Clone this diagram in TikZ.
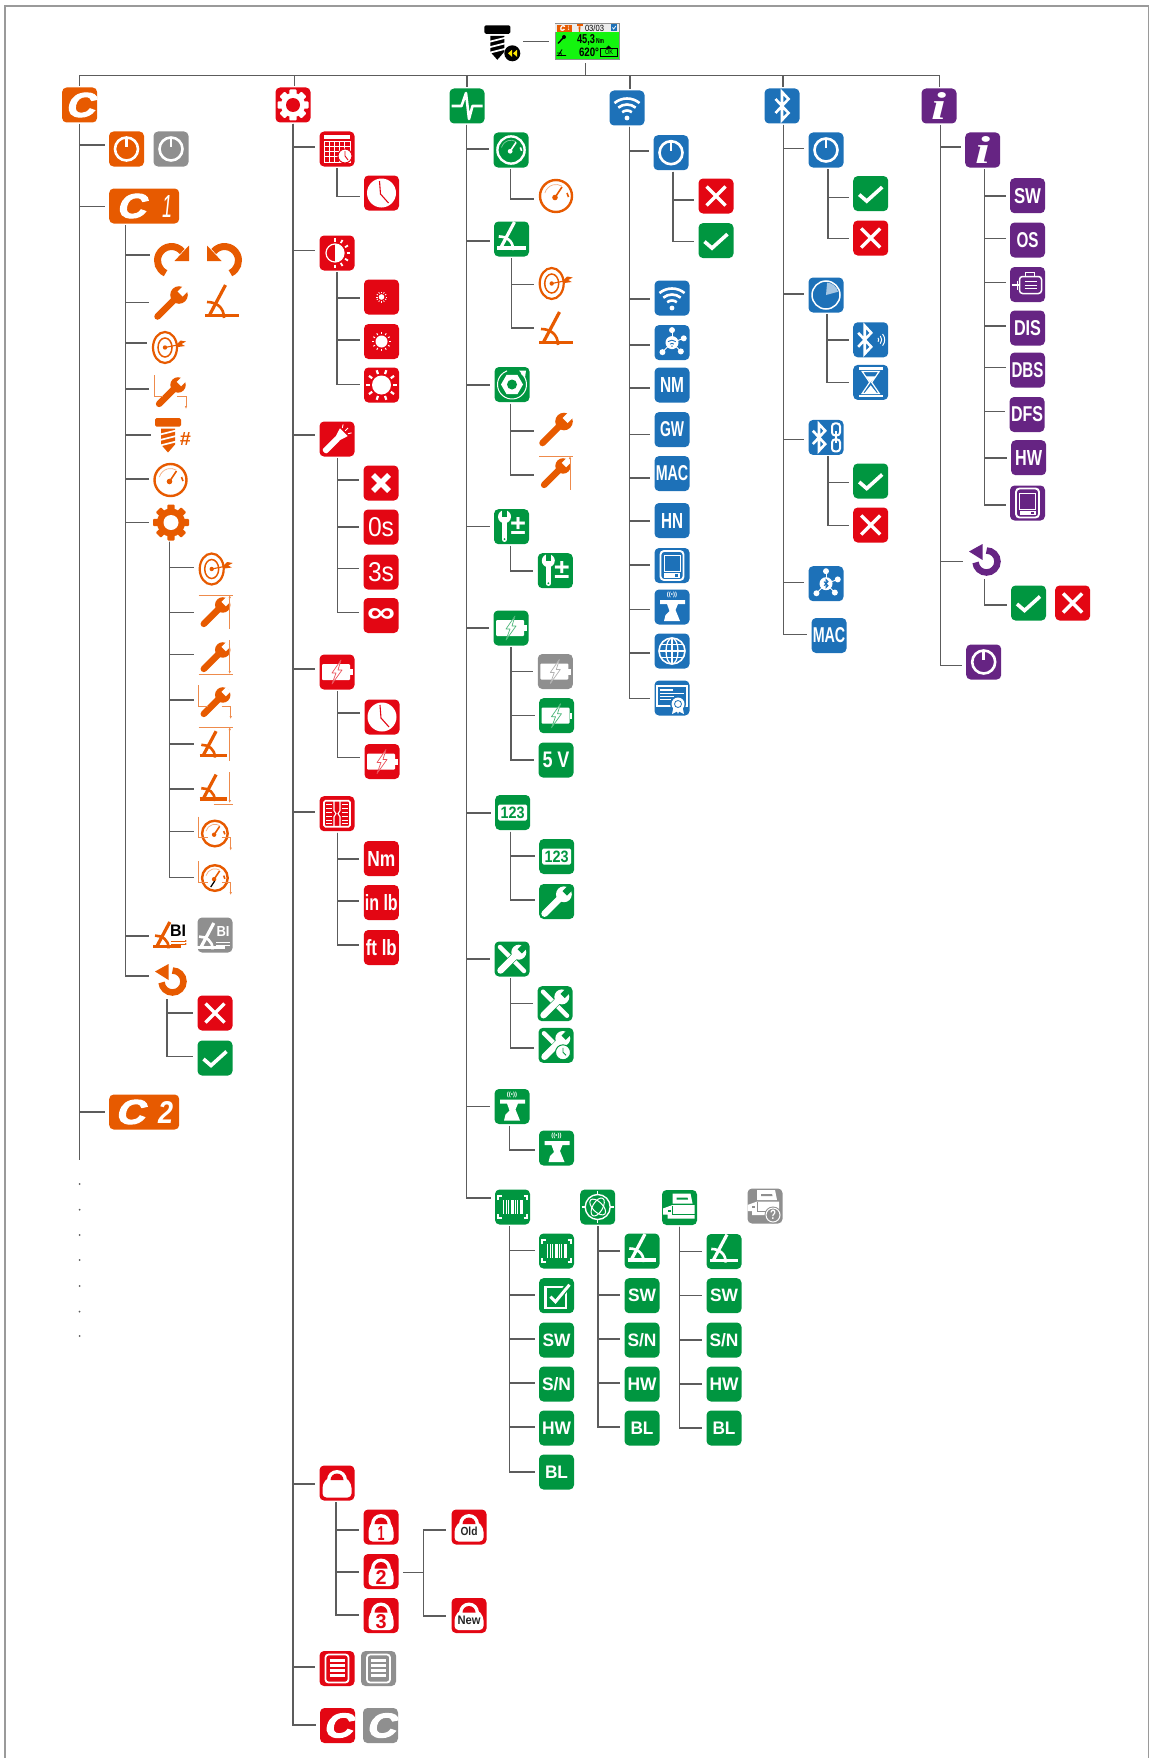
\documentclass[tikz,border=0pt]{standalone}
\usepackage{fontspec}
\usepackage{graphicx}
\setmainfont{Liberation Sans}
\newfontfamily\logofont[FakeSlant=0.22,FakeBold=3]{Liberation Sans}
\newfontfamily\serifi{Liberation Serif}
\usetikzlibrary{arrows.meta}
\definecolor{corange}{HTML}{E75A00}
\definecolor{cred}{HTML}{E30613}
\definecolor{cgreen}{HTML}{009640}
\definecolor{cblue}{HTML}{1D71B8}
\definecolor{cpurple}{HTML}{662483}
\definecolor{cgray}{HTML}{8F8F8F}
\definecolor{cline}{HTML}{5C5C5C}
\definecolor{cframe}{HTML}{9A9A9A}
\definecolor{clcd}{HTML}{14F50F}
\tikzset{
  lw/.style={line width=#1},
  ibox/.style={rounded corners=4.5,minimum width=35,minimum height=35,inner sep=0,outer sep=0},
  ghost/.style={minimum width=35,minimum height=35,inner sep=0,outer sep=0},
  conn/.style={draw=cline,line width=1.25},
  thinl/.style={draw=fgc!70!white,line width=.8},
}
\newcounter{lblc}
\newcommand\lbl[4][]{\stepcounter{lblc}\node[inner sep=0,#1] (lbl\arabic{lblc}) at (#2,#3) {#4};}
\newcommand\sz[3]{\resizebox{#1pt}{#2pt}{\bfseries #3}}
\newcommand\icon[5]{\node[ibox,fill=#4] (#1) at (#2,-#3) {};
  \begin{scope}[shift={(#2,-#3)},yscale=-1]\colorlet{fgc}{white}\colorlet{bgc}{#4}#5\end{scope}}
\newcommand\bare[5][corange]{\node[ghost] (#2) at (#3,-#4) {};
  \begin{scope}[shift={(#3,-#4)},yscale=-1]\colorlet{fgc}{#1}\colorlet{bgc}{white}#5\end{scope}}
\newcommand\tb[7]{\node[ibox,fill=#4,text=white] (#1) at (#2,-#3) {\sz{#5}{#6}{#7}};}
\newcommand\tbr[7]{\node[ibox,fill=#4,text=white] (#1) at (#2,-#3) {\resizebox{#5pt}{#6pt}{#7}};}
\newcommand\kids[3]{\foreach \kc/\kd in {#3}{\draw[conn] ([shift={(#2,-1.5)}]#1.south) |- ([shift={(-4.5,0-\kd)}]\kc.west);}}
\newcommand\scl[2]{\begin{scope}[#1]#2\end{scope}}
% glyphs
\newcommand\gPower{\draw[fgc,lw=2.6] (0,0) circle (11.5);\draw[fgc,lw=2.6] (0,-12)--(0,-2);}
\newcommand\gX{\draw[fgc,lw=3.4] (-9.5,-9.5)--(9.5,9.5) (-9.5,9.5)--(9.5,-9.5);}
\newcommand\gXb{\draw[fgc,lw=5.5] (-8,-8)--(8,8) (-8,8)--(8,-8);}
\newcommand\gCheck{\draw[fgc,lw=3.6] (-11.5,1)--(-4,7.5)--(11.5,-6.5);}
\newcommand\gGear[2]{\fill[fgc] (0,0) circle (#1*.78);\foreach \a in {0,45,...,315}{\fill[fgc,rotate=\a,rounded corners=1] (-3.6,-#1) rectangle (3.6,-#1*.6);}\fill[bgc] (0,0) circle (#2);}
\newcommand\gPulse{\draw[fgc,lw=2.6,line join=round] (-15.5,0)--(-5.5,0)--(-1,-13)--(2,13)--(5.5,0)--(15.5,0);}
\newcommand\gWifi{\foreach \r in {7.5,13.5,19.5}{\draw[fgc,lw=2.6] ([shift={(0,10)}]-130:\r) arc (-130:-50:\r);}\fill[fgc] (0,10) circle (2.4);}
\newcommand\gRune{\draw[fgc,lw=2.6,line join=miter] (-6.5,-7)--(6.5,7)--(0,14)--(0,-14)--(6.5,-7)--(-6.5,7);}
\newcommand\gCal{\fill[fgc] (-13,-13.5) rectangle (13,-10);\draw[fgc,lw=.9] (-13,-8) rectangle (13,13);
 \foreach \xx in {-7.8,-2.6,2.6,7.8}{\draw[fgc,lw=.9] (\xx,-8)--(\xx,13);}\foreach \yy in {-3,2,7.5}{\draw[fgc,lw=.9] (-13,\yy)--(13,\yy);}
 \fill[fgc,draw=bgc,lw=1] (8,7) circle (7);\draw[bgc,lw=.9] (8,2)--(8,7)--(11,11);}
\newcommand\gClock{\fill[fgc] (0,0) circle (14.5);\draw[bgc,lw=1.1] (-2,-12)--(-1,1)--(7,10);}
\newcommand\gHalf{\begin{scope}[shift={(-2,0)}]\draw[fgc,lw=1.2] (0,0) circle (9);\fill[fgc] (0,-9) arc (-90:90:9)--cycle;\foreach \a in {-90,-60,...,90}{\draw[fgc,lw=1.8] (\a:11.5)--(\a:15);}\end{scope}}
\newcommand\gSun[5]{\fill[fgc] (0,0) circle (#1);\foreach \a in {0,#5,...,359}{\draw[fgc,lw=#4] (\a:#2)--(\a:#3);}}
\newcommand\gTorch{\begin{scope}[shift={(-1,1)},rotate=45]\fill[fgc,rounded corners=2] (-3,-4) rectangle (3,17);\fill[fgc] (-5.5,-11)--(5.5,-11)--(3,-3)--(-3,-3)--cycle;\draw[fgc,lw=.9] (0,-13)--(0,-17) (-4,-13)--(-6,-16) (4,-13)--(6,-16);\end{scope}}
\newcommand\gBatt{\fill[fgc,rounded corners=1] (-15,-8) rectangle (13,8);\fill[fgc] (13,-3) rectangle (15.5,3);
 \draw[bgc!70!white,lw=.7,fill=fgc,line join=round] (4,-12)--(-5,1)--(-1,1)--(-5,12)--(5,-2)--(1,-2)--cycle;}
\newcommand\gUnits{\draw[fgc,lw=1.6,rounded corners=1.5] (-13,-13) rectangle (13,13);\draw[fgc,lw=1.1] (-3,-13)--(-3,-3)--(-1,0)--(-3,3)--(-3,13) (3,-13)--(3,-3)--(1,0)--(3,3)--(3,13);
 \foreach \yy in {-9,-5,-1,3,7,10}{\draw[fgc,lw=1.1] (-11,\yy)--(-5,\yy) (5,\yy)--(11,\yy);}}
\newcommand\gLock[1]{\fill[fgc,rounded corners=4] (-8.5,-6)--(8.5,-6)--(#1,1)--(#1,14.5)--(-#1,14.5)--(-#1,1)--cycle;\fill[fgc] (-10,-3) arc (180:360:10)--cycle;\fill[bgc] (-6.5,-3) arc (180:360:6.5)--cycle;}
\newcommand\gList{\draw[fgc,lw=1.8,rounded corners=3] (-11.5,-14) rectangle (11.5,14);\foreach \yy in {-8,-3,2,7}{\draw[fgc,lw=2.4] (-7.5,\yy)--(7.5,\yy);}}
\newcommand\gC{\lbl[text=fgc]{0}{0}{\resizebox{29pt}{24pt}{\logofont\bfseries C}}}
\newcommand\gGauge{\draw[fgc,lw=2.4] (0,0) circle (16);\draw[fgc!50!bgc,lw=.7] (-165:11.5) arc (-165:-60:11.5);\draw[fgc,lw=1.6] (-1,1.5)--(6,-9);\fill[fgc] (-1,1.5) circle (2.8);\draw[fgc,lw=1.6] (11,-3)--(12.5,1);}
\newcommand\gAngle{\draw[fgc,lw=3.2] (-13,14)--(3.5,-17);\draw[fgc,lw=3.2] (-17,13.5)--(17,13.5);\draw[fgc,lw=2.6] (-15,0) .. controls (-6,0) and (2,5) .. (2,16);}
\newcommand\gAngleB{\scl{scale=.85,shift={(0,-3)}}{\gAngle}}
\newcommand\gWrench{\draw[fgc,lw=6.5,line cap=round] (-13.5,13.5)--(5,-5);\fill[fgc] (8,-8) circle (8.8);\fill[bgc] (11.5,-6.5)--(6.5,-11.5)--(12,-17)--(17,-12)--cycle;}
\newcommand\gTarget{\draw[fgc,lw=2.2] (-4,0) ellipse (12 and 15.5);\draw[fgc,lw=1.5] (-4,0) ellipse (7 and 9.5);\fill[fgc] (-4,0) circle (2.2);\draw[fgc,lw=1.1] (-4,0)--(11,-3);\fill[fgc] (7,-2.5)--(11.5,-7)--(17,-6)--(12.5,-3.5)--(16,-1.5)--(9,-.5)--cycle;}
\newcommand\gRedo{\begin{scope}[shift={(0,1)}]\draw[fgc,lw=7] (115:14) arc (115:320:14);\fill[fgc] (17.5,-15)--(17.5,.5)--(3,.5)--cycle;\end{scope}}
\newcommand\gReset{\begin{scope}[shift={(1.5,1.5)}]\draw[fgc,lw=6.5] (-90:11) arc (-90:175:11);\fill[fgc] (-17.5,-10)--(-4,-17.5)--(-4,-1.5)--cycle;\end{scope}}
\newcommand\gScrew{\fill[fgc,rounded corners=1.5] (-13,-17.5) rectangle (13,-9);\fill[fgc] (-7,-7)--(7,-7)--(7,9)--(0,17)--(-7,9)--cycle;\draw[bgc,lw=1.7] (-8,-1)--(8,-5) (-8,4.5)--(8,.5) (-8,10)--(8,6);}
\newcommand\gNut{\fill[fgc] (0:11)--(60:11)--(120:11)--(180:11)--(240:11)--(300:11)--cycle;\fill[bgc] (0,0) circle (5);\draw[fgc,lw=1] (-50:14.5) arc (-50:250:14.5);\fill[fgc] (7,-14)--(14,-14)--(13,-7)--cycle;}
\newcommand\gWpm{\draw[fgc,lw=4.5,line cap=round] (-7,-6)--(-7,13);\fill[fgc] (-7,-10) circle (6.5);\fill[bgc] (-9.5,-10)--(-4.5,-10)--(-4.5,-17)--(-9.5,-17)--cycle;\fill[bgc] (-7,12.5) circle (1);\lbl[text=fgc]{6.5}{-1}{\sz{15}{17}{±}}}
\newcommand\gOneTwo{\fill[fgc,rounded corners=1.5] (-14.5,-8) rectangle (14.5,8);\lbl[text=bgc]{0}{0}{\sz{24}{11.5}{123}}}
\newcommand\gTools{\draw[fgc,lw=4.5,line cap=round] (-12,-12)--(12,12);\draw[bgc,lw=7.5] (-7,7)--(3,-3);\scl{scale=.85}{\gWrench}}
\newcommand\gToolsC{\draw[fgc,lw=4.5,line cap=round] (-12,-12)--(3,3);\draw[bgc,lw=7.5] (-7,7)--(3,-3);\scl{scale=.85}{\gWrench}\fill[fgc,draw=bgc,lw=1] (7,7) circle (7.5);\draw[bgc,lw=.9] (7,2.5)--(7,7)--(10,10);}
\newcommand\gDrill{\lbl[text=fgc,font=\bfseries\fontsize{6}{6}\selectfont]{0}{-12}{((•))}\fill[fgc] (-12,-7)--(13,-7)--(13,-3)--(6,-3)--(3.5,3)--(8,14)--(-8,14)--(-6.5,8)--(-2.5,4)--(-5,-3)--(-12,-3)--cycle;}
\newcommand\gBar{\foreach \xx/\ww in {-9/1.6,-6.5/1,-4/1.8,-1.5/.8,.5/1.6,3/1,5/1.8,7.5/.8,9.5/1.4}{\draw[fgc,lw=\ww] (\xx,-7)--(\xx,7);}
 \draw[fgc,lw=1.3] (-11,-11)--(-14.5,-11)--(-14.5,-7) (11,-11)--(14.5,-11)--(14.5,-7) (-11,11)--(-14.5,11)--(-14.5,7) (11,11)--(14.5,11)--(14.5,7);}
\newcommand\gBox{\draw[fgc,lw=2.2] (-11,-8.5) rectangle (9.5,12);\draw[bgc,lw=6] (-6,1)--(-1,6)--(13,-12);\draw[fgc,lw=3] (-6,1)--(-1,6)--(13,-11);}
\newcommand\gScan{\draw[fgc,lw=1.4] (0,0) circle (12.5);\draw[fgc,lw=1.4] (0,-16)--(0,-12) (0,16)--(0,12) (-16,0)--(-12,0) (16,0)--(12,0);\draw[fgc,lw=1,rotate=45] (0,0) ellipse (10 and 5);\draw[fgc,lw=1,rotate=-60] (0,0) ellipse (10 and 5);}
\newcommand\gPrinter{\fill[fgc] (-7,-14)--(11,-14)--(13,-4)--(-7,-4)--cycle;\fill[bgc] (-3,-10)--(8,-10)--(8.5,-8)--(-3,-8)--cycle;\fill[fgc] (-16.5,1)--(-7,-2.5)--(15,-2.5)--(15,11)--(-12,11)--(-12,7)--(-16.5,7)--cycle;\draw[bgc,lw=.7] (-7,-2)--(-7,7)--(15,7);\fill[bgc] (-12,2) rectangle (-9,4);}
\newcommand\gPrinterQ{\scl{shift={(-1,-2)}}{\gPrinter}\fill[bgc] (8,9) circle (8.5);\draw[fgc,lw=1,fill=bgc] (8,9) circle (7);\lbl[text=fgc]{8}{9}{\sz{6}{9.5}{?}}}
\newcommand\gNet[1]{\foreach \a/\rr in {-90/12.5,-20/12.5,45/12.5,135/13.5,-155/3}{\draw[fgc,lw=.9] (0,0)--(\a:\rr);\fill[fgc] (\a:\rr) circle (3);}\fill[fgc] (0,0) circle (6.5);#1}
\newcommand\gNetWifi{\gNet{\draw[bgc,lw=.9] (-4,-1) arc (-130:-50:6);\draw[bgc,lw=.9] (-2,1.5) arc (-130:-50:3);\fill[bgc] (0,3.5) circle (.8);}}
\newcommand\gNetBT{\gNet{\draw[bgc,lw=1,line join=miter] (-2,-2)--(2,2)--(0,4)--(0,-4)--(2,-2)--(-2,2);}}
\newcommand\gDevice{\draw[fgc,lw=1.9,rounded corners=3.5] (-11.5,-14.5) rectangle (11.5,14.5);\draw[fgc,lw=.9] (-8,-10) rectangle (8,6);\fill[fgc] (-8,7.5) rectangle (8,12);\fill[bgc] (3,8.5) rectangle (6,11);}
\newcommand\gGlobe{\draw[fgc,lw=1.6] (0,0) circle (13);\draw[fgc,lw=1.3] (0,0) ellipse (6 and 13);\draw[fgc,lw=1.3] (0,-13)--(0,13) (-13,0)--(13,0) (-11,-6.5)--(11,-6.5) (-11,6.5)--(11,6.5);}
\newcommand\gCert{\draw[fgc,lw=1.2] (-15,-12) rectangle (15,8);\draw[fgc,lw=1.5] (-12,-8)--(1,-8);\draw[fgc,lw=.8] (-12,-5)--(12,-5) (-12,-2)--(2,-2) (-12,1)--(-1,1);\fill[bgc] (6,6) circle (8);\fill[fgc] (1.5,9)--(0,16)--(5,13.5)--(6,16)--(7,13.5)--(12,16)--(10.5,9)--cycle;\fill[fgc] (6,6) circle (6.5);\draw[bgc,lw=.8] (6,6) circle (3.5);}
\newcommand\gRadar{\draw[fgc,lw=1.5] (0,0) circle (14);\fill[fgc!60!bgc] (0,0)--(-85:12.5) arc (-85:-15:12.5)--cycle;}
\newcommand\gBTS{\scl{shift={(-6,0)}}{\gRune}\foreach \r in {3,6,9}{\draw[fgc,lw=1] ([shift={(5,0)}]-40:\r) arc (-40:40:\r);}}
\newcommand\gHour{\fill[fgc] (-12,-15) rectangle (12,-12.5);\fill[fgc] (-12,12.5) rectangle (12,15);\draw[fgc,lw=1.2,fill=bgc] (-8.5,-11)--(8.5,-11)--(1,0)--(8.5,11)--(-8.5,11)--(-1,0)--cycle;\fill[fgc] (-6,10.5)--(6,10.5)--(0,3)--cycle;\fill[fgc] (-5,-6)--(5,-6)--(0,0)--cycle;}
\newcommand\gBTL{\scl{shift={(-7,0)},scale=.95}{\gRune}\draw[fgc,lw=2,rounded corners=3] (6,-14) rectangle (14,-2);\draw[fgc,lw=2,rounded corners=3] (6,2) rectangle (14,14);\draw[fgc,lw=2] (10,-6)--(10,6);}
\newcommand\gMotor{\draw[fgc,lw=1.5,rounded corners=3] (-8,-8) rectangle (14,9);\foreach \yy in {-3,.5,4}{\draw[fgc,lw=1] (-3,\yy)--(9,\yy);}\draw[fgc,lw=1.5] (-16,.5)--(-8,.5);\draw[fgc,lw=1.2] (-10,-4)--(-10,5);\draw[fgc,lw=1] (-2,-8) rectangle (7,-12);}
% bracket decorations
\newcommand\topb{\draw[thinl] (-17,-17)--(17,-17);\draw[thinl,{Latex[length=3,width=2.5]}-] (14,-17)--(14,17);}
\newcommand\botb{\draw[thinl] (-17,17)--(17,17);\draw[thinl,-{Latex[length=3,width=2.5]}] (14,-17)--(14,17);}
\newcommand\lb{\draw[thinl] (-17,-17)--(-17,4)--(-8,4) (6,4)--(15,4);\draw[thinl,-{Latex[length=3,width=2.5]}] (15,4)--(15,17);}
\begin{document}
\begin{tikzpicture}[x=1pt,y=1pt]
\useasboundingbox (0,0) rectangle (1149,-1758);
\draw[cframe,lw=1.3] (5,-1758)--(5,-6)--(1148.5,-6)--(1148.5,-1758);
% header
\bare[black]{scr}{502}{41.3}{\scl{shift={(-4.7,1.5)}}{\gScrew}\fill[black] (10.3,12) circle (8);\fill[yellow!90!orange] (10,8.5)--(10,15.5)--(6,12)--cycle (15,8.5)--(15,15.5)--(11,12)--cycle;}
\node[fill=clcd,draw=cgray,lw=.7,minimum width=64,minimum height=35.5,inner sep=0] (lcd) at (587,-41.3) {};
\begin{scope}[yscale=-1]
\fill[white!85!gray] (555.4,23.7) rectangle (618.6,32.3);
\fill[corange] (556.8,24.6) rectangle (571.5,31.6);
\lbl[text=white]{562}{28}{\resizebox{5pt}{5.5pt}{\logofont\bfseries C}}
\lbl[text=white]{568.5}{28}{\sz{1.5}{4.5}{1}}
\fill[corange] (576.5,24.5) rectangle (582.5,26.5);\fill[corange] (578.5,26.5)--(580.5,26.5)--(580,32)--(579,32)--cycle;
\lbl[text=black]{594.5}{28}{\resizebox{19pt}{6.5pt}{03/03}}
\fill[cblue] (610.7,24.5) rectangle (617,31);\draw[white,lw=.7] (612.3,27.5)--(613.7,29)--(615.8,26);
\draw[black,lw=1.4] (558,43.5)--(563,38);\fill[black] (564,37) circle (2);
\draw[black,lw=.8] (558,56)--(562,49.5) (556.5,55.5)--(566,55.5) (557,53)--(561,53)--(561.5,56);
\lbl[text=black]{586}{40}{\sz{18}{9}{45,3}}
\lbl[text=black]{600}{41.5}{\sz{8}{5}{Nm}}
\lbl[text=black]{589}{52}{\sz{20}{8.5}{620°}}
\draw[black,lw=.7] (600,48) rectangle (617,56);
\fill[black] (608.5,45.5)--(606,48)--(611,48)--cycle;
\lbl[text=black]{609}{52}{\resizebox{8pt}{5pt}{OK}}
\end{scope}
\draw[conn] ([shift={(-6,0)}]lcd.west) -- ([shift={(3.5,0)}]scr.east);
% columns
\icon{rC}{79.6}{105}{corange}{\gC}
\icon{rG}{293}{105}{cred}{\gGear{15.5}{7}}
\icon{rP}{467}{106}{cgreen}{\gPulse}
\icon{rW}{627}{108}{cblue}{\gWifi}
\icon{rB}{782}{106}{cblue}{\gRune}
\node[ibox,fill=cpurple,text=white] (rI) at (939,-106) {\resizebox{15pt}{27pt}{\serifi\bfseries\itshape i}};
\foreach \cn/\cx in {rC/0,rG/1.5,rP/0,rW/3,rB/1,rI/.6}{\draw[conn] ([shift={(-1.3,-4)}]lcd.south) -- ++(0,-12) -| ([shift={(\cx,1.5)}]\cn.north);}
% C column
\icon{cp}{126.5}{149}{corange}{\gPower}
\icon{cpg}{171}{149}{cgray}{\gPower}
\node[ibox,fill=corange,minimum width=70,text=white] (c1) at (144.2,-206) {\resizebox{29pt}{24pt}{\logofont\bfseries C}\hspace{17pt}\resizebox{10pt}{22pt}{\itshape 1}};
\node[ibox,fill=corange,minimum width=70,text=white] (c2) at (144.2,-1112) {\resizebox{29pt}{24pt}{\logofont\bfseries C}\hspace{14pt}\resizebox{15pt}{22pt}{\bfseries\itshape 2}};
\kids{rC}{0}{cp/-4,c1/.7,c2/0}
\coordinate (cend) at (79.6,-1160);
\draw[conn] ([shift={(0,-1.5)}]rC.south) -- (cend);
\foreach \dy in {1184,1209.7,1235,1260,1286,1311.6,1336}{\fill[cline] (79.6,-\dy) circle (1);}
\bare{re}{171.5}{259.5}{\gRedo}
\bare{un}{224.5}{259.5}{\scl{xscale=-1}{\gRedo}}
\bare{cw}{171}{303}{\gWrench}
\bare{ca}{222}{302}{\gAngle}
\bare{ct}{169}{347.5}{\gTarget}
\bare{cwl}{171}{392}{\scl{scale=.88}{\gWrench}\lb}
\bare{cs}{173}{435.5}{\scl{shift={(-5,0)}}{\gScrew}\lbl[text=corange]{12}{3.5}{\resizebox{11pt}{13pt}{\bfseries\itshape\#}}}
\bare{cg}{170.5}{480}{\gGauge}
\bare{cge}{171}{522.5}{\gGear{18}{7.5}}
\bare{g1}{215.7}{569}{\gTarget}
\bare{g2}{215.7}{612}{\scl{scale=.88}{\gWrench}\topb}
\bare{g3}{215.7}{657}{\scl{scale=.88}{\gWrench}\botb}
\bare{g4}{215.7}{702}{\scl{scale=.88}{\gWrench}\lb}
\bare{g5}{215.7}{744}{\scl{scale=.8,shift={(-3,1)}}{\gAngle}\topb}
\bare{g6}{215.7}{789}{\scl{scale=.8,shift={(-3,-1)}}{\gAngle}\draw[thinl,lw=1.5] (-2,15.5)--(17,15.5);\draw[thinl,-{Latex[length=3,width=2.5]}] (14,-17)--(14,14);}
\bare{g7}{215.7}{833.5}{\scl{scale=.8,shift={(-1,0)}}{\gGauge}\lb}
\bare{g8}{215.7}{878}{\scl{scale=.8,shift={(-1,0)}}{\gGauge}\lb\draw[black,lw=1.2] (-5,9)--(-1,3);}
\bare{cb}{171}{934}{\scl{scale=.8,shift={(-5,2)}}{\gAngle}\lbl[text=black]{7}{-3}{\sz{16}{11.5}{BI}}\draw[corange,lw=.7,-{Latex[length=2,width=2]}] (0,7)--(16,7);\draw[corange,lw=.7,-{Latex[length=2,width=2]}] (0,10)--(16,10);}
\icon{cbg}{215}{935}{cgray}{\scl{scale=.8,shift={(-5,2)}}{\gAngle}\lbl[text=fgc]{8}{-4}{\sz{13}{10}{BI}}\draw[fgc,lw=.7] (1,7)--(15,7) (1,10)--(15,10);}
\bare{cr}{171}{980}{\gReset}
\icon{crx}{215}{1013}{cred}{\gX}
\icon{crc}{215}{1058}{cgreen}{\gCheck}
\kids{c1}{-18.9}{re/-4.5,cw/-.5,ct/-4.5,cwl/-3,cs/-.5,cg/-1,cge/0,cb/2,cr/-4}
\kids{cge}{-1.3}{g1/-1.4,g2/.6,g3/-2.2,g4/-2,g5/0,g6/0,g7/-1.9,g8/-.5}
\kids{cr}{-4}{crx/0,crc/-1.4}
% Gear column
\icon{cal}{337}{149}{cred}{\gCal}
\icon{clk}{381.5}{193}{cred}{\gClock}
\icon{br}{337}{253}{cred}{\gHalf}
\icon{d1}{381.5}{297}{cred}{\gSun{2.8}{4}{5.5}{.8}{30}}
\icon{d2}{381.5}{341.5}{cred}{\gSun{6}{7.5}{9.5}{1}{30}}
\icon{d3}{381.5}{385}{cred}{\gSun{9.5}{11.5}{15.5}{2.2}{36}}
\icon{trc}{337}{439}{cred}{\gTorch}
\icon{tx}{381}{483}{cred}{\gXb}
\tbr{t0}{381}{527}{cred}{26}{19}{0s}
\tbr{t3}{381}{572}{cred}{26}{19}{3s}
\node[ibox,fill=cred,text=white] (ti) at (381,-615.5) {\resizebox{28pt}{14pt}{\bfseries ∞}};
\icon{bat}{337}{672}{cred}{\gBatt}
\icon{bclk}{382}{717}{cred}{\gClock}
\icon{bbat}{382}{761.5}{cred}{\gBatt}
\icon{uni}{337}{813.7}{cred}{\gUnits}
\tb{un1}{381.3}{858.5}{cred}{28}{15}{Nm}
\tb{un2}{381.3}{902.5}{cred}{33}{16}{in lb}
\tb{un3}{381.3}{947.5}{cred}{31}{16}{ft lb}
\icon{lck}{337}{1483}{cred}{\gLock{14.5}}
\icon{l1}{381}{1527}{cred}{\gLock{12.5}\lbl[text=bgc]{0}{6}{\sz{7}{14}{1}}}
\icon{l2}{381}{1571.5}{cred}{\gLock{12.5}\lbl[text=bgc]{0}{6}{\sz{11}{14}{2}}}
\icon{l3}{381}{1615.5}{cred}{\gLock{12.5}\lbl[text=bgc]{0}{6}{\sz{11}{14}{3}}}
\icon{lold}{469}{1527}{cred}{\gLock{14.5}\lbl[text=black!85]{0}{4.5}{\sz{17}{8.5}{Old}}}
\icon{lnew}{469}{1615.5}{cred}{\gLock{14.5}\lbl[text=black!85]{0}{4.5}{\sz{23}{8.5}{New}}}
\icon{lst}{337}{1668.5}{cred}{\gList}
\icon{lsg}{378.5}{1668.5}{cgray}{\gList}
\icon{cc}{337.5}{1725.5}{cred}{\gC}
\icon{cg2}{380.5}{1725.5}{cgray}{\gC}
\kids{rG}{0}{cal/-2,br/-2.3,trc/-4,bat/-3,uni/-1.7,lck/1,lst/-1.5,cc/-.5}
\kids{cal}{0}{clk/3.7}
\kids{br}{0}{d1/1,d2/-1.5,d3/-.7}
\kids{trc}{.3}{tx/-3,t0/0,t3/-3.3,ti/-2.8}
\kids{bat}{.3}{bclk/-4,bbat/-3.8}
\kids{uni}{.3}{un1/.5,un2/-1.5,un3/-2.5}
\kids{lck}{-1}{l1/3,l2/.5,l3/-.5}
\coordinate (lsplit) at (423.3,-1572.6);
\draw[conn] ([shift={(4.7,-1.1)}]l2.east) -- (lsplit);
\draw[conn] (lsplit) |- ([shift={(-5.7,-3)}]lold.west);
\draw[conn] (lsplit) |- ([shift={(-5.7,-.5)}]lnew.west);
% Pulse column
\icon{ggr}{511}{150}{cgreen}{\scl{scale=.85}{\gGauge}}
\bare{gor}{556}{196}{\gGauge}
\icon{agr}{511.5}{239}{cgreen}{\gAngleB}
\bare{tor}{555.7}{283.5}{\gTarget}
\bare{aor}{556}{329}{\gAngle}
\icon{nut}{512}{384.5}{cgreen}{\gNut}
\bare{wo}{556}{429.5}{\gWrench}
\bare{wt}{556}{473}{\scl{scale=.88}{\gWrench}\topb}
\icon{wpm}{511.5}{526.7}{cgreen}{\gWpm}
\icon{wpc}{555.3}{570.7}{cgreen}{\gWpm}
\icon{bgr}{511}{628}{cgreen}{\gBatt}
\icon{bg1}{555.3}{671.5}{cgray}{\gBatt}
\icon{bg2}{556.5}{715.7}{cgreen}{\gBatt}
\tb{bv}{556}{760}{cgreen}{27}{15.5}{5 V}
\icon{n123}{512.7}{812.5}{cgreen}{\gOneTwo}
\icon{c123}{556.7}{856.5}{cgreen}{\gOneTwo}
\icon{cwr}{556.7}{901.5}{cgreen}{\scl{scale=.9}{\gWrench}}
\icon{tools}{512}{959}{cgreen}{\gTools}
\icon{tc1}{555}{1003.7}{cgreen}{\gTools}
\icon{tc2}{556}{1045.3}{cgreen}{\gToolsC}
\icon{drl}{512}{1106.5}{cgreen}{\gDrill}
\icon{dc}{556.5}{1148}{cgreen}{\gDrill}
\icon{barc}{512.5}{1207}{cgreen}{\gBar}
\icon{b1}{556.5}{1251}{cgreen}{\gBar}
\icon{b2}{556.5}{1295.7}{cgreen}{\gBox}
\tb{b3}{556.5}{1340}{cgreen}{28}{12.5}{SW}
\tb{b4}{556.5}{1384}{cgreen}{29}{13}{S/N}
\tb{b5}{556.5}{1428}{cgreen}{29}{12.5}{HW}
\tb{b6}{556.5}{1472}{cgreen}{23}{12.5}{BL}
\icon{scan}{597.7}{1207}{cgreen}{\gScan}
\icon{s1}{642}{1251}{cgreen}{\gAngleB}
\tb{s2}{642}{1295.7}{cgreen}{28}{12.5}{SW}
\tb{s3}{642}{1340}{cgreen}{29}{13}{S/N}
\tb{s4}{642}{1384}{cgreen}{29}{12.5}{HW}
\tb{s5}{642}{1428}{cgreen}{23}{12.5}{BL}
\icon{prn}{679.5}{1207.5}{cgreen}{\gPrinter}
\icon{p1}{724}{1251.5}{cgreen}{\gAngleB}
\tb{p2}{724}{1295.7}{cgreen}{28}{12.5}{SW}
\tb{p3}{724}{1340}{cgreen}{29}{13}{S/N}
\tb{p4}{724}{1384}{cgreen}{29}{12.5}{HW}
\tb{p5}{724}{1428}{cgreen}{23}{12.5}{BL}
\icon{prq}{765}{1206}{cgray}{\gPrinterQ}
\kids{rP}{-.5}{ggr/-1,agr/2,nut/.5,wpm/0,bgr/0,n123/.5,tools/0,drl/0,barc/-9}
\kids{ggr}{-.3}{gor/3}
\kids{agr}{.2}{tor/1.2,aor/-1}
\kids{nut}{-1.3}{wo/1.5,wt/2}
\kids{wpm}{-.8}{wpc/.3}
\kids{bgr}{0}{bg1/0,bg2/0,bv/0}
\kids{n123}{-2}{c123/-.5,cwr/-1.5}
\kids{tools}{-1.3}{tc1/0,tc2/2.7}
\kids{drl}{-2.3}{dc/2}
\kids{barc}{-2.8}{b1/-.3,b2/-.7,b3/-1,b4/-1,b5/-1,b6/0}
\kids{scan}{.3}{s1/0,s2/-.7,s3/-1,s4/-1,s5/-1}
\kids{prn}{.2}{p1/0,p2/0,p3/0,p4/0,p5/0}
% WiFi column
\icon{wp}{671}{152.7}{cblue}{\gPower}
\icon{wx}{716}{196}{cred}{\gX}
\icon{wc}{716}{240.6}{cgreen}{\gCheck}
\icon{ww}{672}{298}{cblue}{\gWifi}
\icon{wn}{672}{342.6}{cblue}{\gNetWifi}
\tb{wnm}{672}{385}{cblue}{24}{15}{NM}
\tb{wgw}{672}{429.6}{cblue}{24}{15}{GW}
\tb{wmac}{672}{473.6}{cblue}{32.5}{15}{MAC}
\tb{whn}{672}{520.5}{cblue}{22}{15}{HN}
\icon{wdv}{672}{565.5}{cblue}{\gDevice}
\icon{wdr}{672}{607}{cblue}{\gDrill}
\icon{wgl}{672}{651}{cblue}{\gGlobe}
\icon{wce}{672}{698}{cblue}{\gCert}
\kids{rW}{2.4}{wp/-1.7,ww/1,wn/2.4,wnm/3,wgw/4.9,wmac/4.4,whn/.5,wdv/-.5,wdr/2.5,wgl/2,wce/.6}
\kids{wp}{2}{wx/4,wc/.7}
% BT column
\icon{bp}{826}{150}{cblue}{\gPower}
\icon{bc}{870.7}{193.6}{cgreen}{\gCheck}
\icon{bx}{870.7}{238}{cred}{\gX}
\icon{rad}{826}{295}{cblue}{\gRadar}
\icon{bs}{870.7}{339.8}{cblue}{\gBTS}
\icon{hg}{870.7}{382.4}{cblue}{\gHour}
\icon{lnk}{826}{437.4}{cblue}{\gBTL}
\icon{lc}{870.7}{481}{cgreen}{\gCheck}
\icon{lx}{870.7}{525}{cred}{\gX}
\icon{bnet}{826}{583.7}{cblue}{\gNetBT}
\tb{bmac}{829}{635.5}{cblue}{32.5}{15}{MAC}
\kids{rB}{1.5}{bp/-1.6,rad/-1,lnk/2.1,bnet/-1.2,bmac/-1.2}
\kids{bp}{2}{bc/4.1,bx/.8}
\kids{rad}{1}{bs/.2,hg/.2}
\kids{lnk}{2}{lc/1.6,lx/.7}
% Info column
\node[ibox,fill=cpurple,text=white] (inf) at (982.7,-150) {\resizebox{15pt}{27pt}{\serifi\bfseries\itshape i}};
\tb{isw}{1027.5}{195.7}{cpurple}{27}{15}{SW}
\tb{ios}{1027.5}{240}{cpurple}{22}{15}{OS}
\icon{imo}{1027.5}{284.5}{cpurple}{\gMotor}
\tb{idi}{1027.5}{328}{cpurple}{27}{15}{DIS}
\tb{idb}{1027.5}{370}{cpurple}{32}{15}{DBS}
\tb{idf}{1027}{414.5}{cpurple}{32}{15}{DFS}
\tb{ihw}{1028.6}{457.7}{cpurple}{27}{15}{HW}
\icon{idv}{1027.5}{503}{cpurple}{\gDevice}
\bare[cpurple]{irs}{985}{560}{\gReset}
\icon{ic}{1028.5}{603}{cgreen}{\gCheck}
\icon{ix}{1072.6}{603}{cred}{\gX}
\icon{ipw}{983.7}{662}{cpurple}{\gPower}
\kids{rI}{1.7}{inf/-3,irs/1.8,ipw/3.4}
\kids{inf}{2}{isw/.3,ios/-1.6,imo/-2.2,idi/-2.1,idb/-2.7,idf/-2.8,ihw/.3,idv/2}
\kids{irs}{-.6}{ic/2}
\end{tikzpicture}
\end{document}
